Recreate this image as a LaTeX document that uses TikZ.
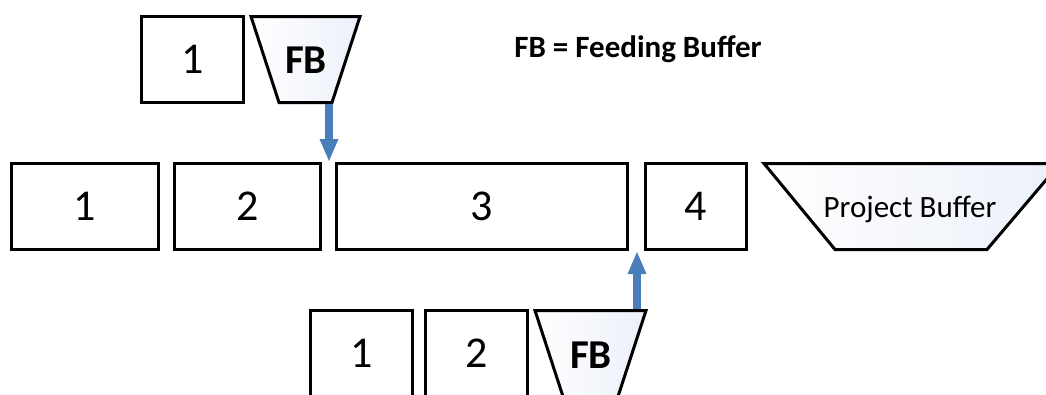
\documentclass[tikz,border=0pt]{standalone}
\usepackage{fontspec}
\setmainfont{Carlito}
\usetikzlibrary{arrows.meta}
\definecolor{arrowblue}{RGB}{74,126,187}
\definecolor{bufshade}{RGB}{236,240,249}
\begin{document}
\begin{tikzpicture}[x=1pt,y=-1pt,
  task/.style={draw=black, line width=3pt, fill=white, inner sep=0pt,
    font=\fontsize{44}{50}\selectfont},
  bufshape/.style={draw=black, line width=3pt, line join=miter,
    left color=white, right color=bufshade},
  buflabel/.style={inner sep=0pt, font=\fontsize{41}{46}\selectfont\bfseries},
  pblabel/.style={inner sep=0pt, anchor=base, font=\fontsize{31}{36}\selectfont},
  legend/.style={inner sep=0pt, anchor=base, font=\fontsize{31}{36}\selectfont\bfseries},
  feed/.style={line width=8pt, draw=arrowblue, -{Triangle[width=17pt,length=23pt]}}
]
\useasboundingbox[clip] (0,0) rectangle (1046,394);
\fill[white] (0,0) rectangle (1046,394);

% top feeding chain
\node[task, minimum width=102pt, minimum height=86pt] (t1) at (192.5,59.5) {1};
\draw[bufshape] (251,16.5) -- (360,16.5) -- (332,102.5) -- (279,102.5) -- cycle;
\node[buflabel] (fb1) at (306,60) {FB};

\node[legend] (leg) at (638,57) {FB = Feeding Buffer};

% critical chain
\node[task, minimum width=147pt, minimum height=86pt] (m1) at (85,206.5) {1};
\node[task, minimum width=146pt, minimum height=86pt] (m2) at (247.5,206.5) {2};
\node[task, minimum width=291pt, minimum height=86pt] (m3) at (482,206.5) {3};
\node[task, minimum width=101pt, minimum height=86pt] (m4) at (696,206.5) {4};
\draw[bufshape] (764,163.5) -- (1060,163.5) -- (987,249.5) -- (835,249.5) -- cycle;
\node[pblabel] (pb) at (910,217) {Project Buffer};

% bottom feeding chain
\node[task, minimum width=102pt, minimum height=86pt] (b1) at (361.5,353.5) {1};
\node[task, minimum width=102pt, minimum height=86pt] (b2) at (476.5,353.5) {2};
\draw[bufshape] (535,310.5) -- (646,310.5) -- (618,396.5) -- (563,396.5) -- cycle;
\node[buflabel] (fb2) at (591,355) {FB};

% feeding arrows
\coordinate (fb1out) at (329,104);
\coordinate (merge1) at (329,162);
\coordinate (fb2out) at (637,309);
\coordinate (merge2) at (637,251);
\draw[feed] (fb1out) -- (merge1);
\draw[feed] (fb2out) -- (merge2);
\end{tikzpicture}
\end{document}
